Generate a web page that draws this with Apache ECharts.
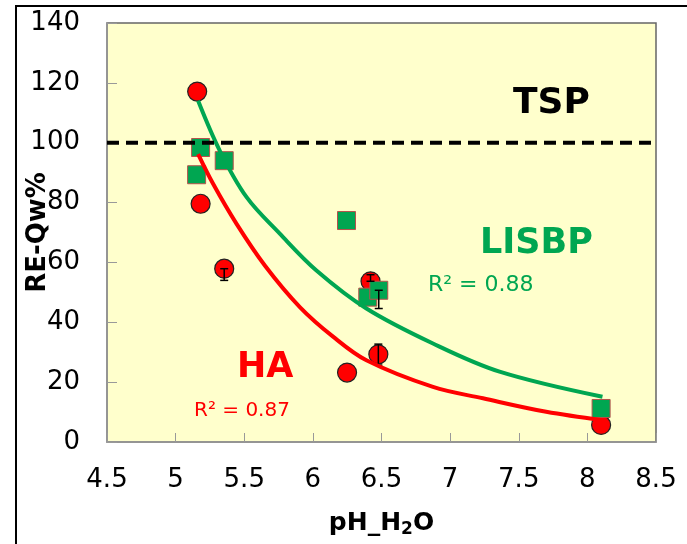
<!DOCTYPE html>
<html><head><meta charset="utf-8">
<script src="https://cdn.jsdelivr.net/npm/echarts@6/dist/echarts.min.js"></script>
<style>html,body{margin:0;padding:0;background:#fff}#c{width:687px;height:544px}</style>
</head><body><div id="c"></div>
<script>
// ---- data ----
const xRange = [4.5, 8.5];
const yRange = [0, 140];
const haX = [5.157, 5.182, 5.354, 6.249, 6.42, 6.477, 8.10];
const haY = [117.1, 79.6, 57.9, 23.2, 53.7, 29.3, 5.7];
const lisbpX = [5.182, 5.153, 5.354, 6.245, 6.40, 6.48, 8.10];
const lisbpY = [98.4, 89.3, 94.0, 74.0, 48.4, 50.7, 11.2];
const haFitX = [5.164, 5.274, 5.444, 5.65, 5.905, 6.147, 6.39, 6.875, 7.239, 7.70, 8.11];
const haFitY = [96.2, 86.2, 72.9, 59.0, 45.1, 35.2, 27.3, 18.4, 14.6, 10.1, 7.3];
const lisbpFitX = [5.164, 5.322, 5.517, 5.759, 6.026, 6.39, 6.875, 7.36, 8.11];
const lisbpFitY = [114, 97.3, 81.8, 69.6, 57.3, 44.6, 32.9, 23.5, 15.1];
const errX = [5.354, 6.42, 6.477, 6.48];
const errLo = [54.0, 53.7, 25.7, 44.6];
const errHi = [57.9, 55.9, 32.7, 50.7];
const tspY = 100;
const labels = {tsp: 'TSP', lisbp: 'LISBP', ha: 'HA', r2Lisbp: 'R² = 0.88', r2Ha: 'R² = 0.87'};

const RED = '#ff0000', GREEN = '#00a651', FONT = 'DejaVu Sans';
const zip = (a, b) => a.map((v, i) => [v, b[i]]);

const chart = echarts.init(document.getElementById('c'), null, {renderer: 'canvas'});
chart.setOption({
  animation: false,
  backgroundColor: '#ffffff',
  grid: {left: 107, top: 23, right: 31, bottom: 102, show: true, containLabel: false, outerBoundsMode: 'none',
         backgroundColor: '#ffffcc', borderColor: '#666', borderWidth: 1.5},
  xAxis: {
    type: 'value', min: xRange[0], max: xRange[1], interval: 0.5,
    name: '{a|pH_H}{s|2}{a|O}', nameLocation: 'middle', nameGap: 66, nameMoveOverlap: false,
    nameTextStyle: {rich: {
      a: {fontFamily: FONT, fontSize: 25, fontWeight: 'bold', color: '#000', lineHeight: 30},
      s: {fontFamily: FONT, fontSize: 17, fontWeight: 'bold', color: '#000', verticalAlign: 'bottom', lineHeight: 30, padding: [12, 0, 0, 0]}
    }},
    axisLine: {onZero: false, lineStyle: {color: '#999', width: 1.5}},
    axisTick: {inside: true, length: 9, lineStyle: {color: '#999'}},
    axisLabel: {margin: 25, fontFamily: FONT, fontSize: 26, color: '#000'},
    splitLine: {show: false}
  },
  yAxis: {
    type: 'value', min: yRange[0], max: yRange[1], interval: 20,
    name: 'RE-Qw%', nameLocation: 'middle', nameGap: 56, nameRotate: 90, nameMoveOverlap: false,
    nameTextStyle: {fontFamily: FONT, fontSize: 26, fontWeight: 'bold', color: '#000'},
    axisLine: {show: true, lineStyle: {color: '#999', width: 1.5}},
    axisTick: {show: true, inside: true, length: 10, lineStyle: {color: '#999'}},
    axisLabel: {margin: 27, fontFamily: FONT, fontSize: 26, color: '#000'},
    splitLine: {show: false}
  },
  graphic: [
    {type: 'rect', shape: {x: 16, y: 6, width: 800, height: 700}, style: {fill: 'none', stroke: '#000', lineWidth: 2}, z: 100, silent: true},
    {type: 'text', left: 513, top: 86, style: {text: labels.tsp, fontFamily: FONT, fontSize: 36, fontWeight: 'bold', fill: '#000'}, z: 100},
    {type: 'text', left: 480, top: 226, style: {text: labels.lisbp, fontFamily: FONT, fontSize: 35, fontWeight: 'bold', fill: GREEN}, z: 100},
    {type: 'text', left: 428, top: 274, style: {text: labels.r2Lisbp, fontFamily: FONT, fontSize: 22, fill: GREEN}, z: 100},
    {type: 'text', left: 237, top: 350, style: {text: labels.ha, fontFamily: FONT, fontSize: 35, fontWeight: 'bold', fill: RED}, z: 100},
    {type: 'text', left: 194, top: 401, style: {text: labels.r2Ha, fontFamily: FONT, fontSize: 20, fill: RED}, z: 100}
  ],
  series: [
    {name: 'HA', type: 'scatter', data: zip(haX, haY), symbol: 'circle', symbolSize: 19,
     itemStyle: {color: RED, borderColor: '#222', borderWidth: 1.2, opacity: 1}, z: 3},
    {name: 'LISBP', type: 'scatter', data: zip(lisbpX, lisbpY), symbol: 'rect', symbolSize: 18,
     itemStyle: {color: GREEN, borderColor: '#b5524c', borderWidth: 1, opacity: 1}, z: 4},
    {name: 'err', type: 'custom', z: 5,
     data: errX.map((x, i) => [x, errLo[i], errHi[i]]),
     renderItem: function (params, api) {
       const lo = api.coord([api.value(0), api.value(1)]);
       const hi = api.coord([api.value(0), api.value(2)]);
       const w = 4;
       const st = {stroke: '#000', lineWidth: 1.5};
       return {type: 'group', children: [
         {type: 'line', shape: {x1: lo[0], y1: lo[1], x2: hi[0], y2: hi[1]}, style: st},
         {type: 'line', shape: {x1: lo[0] - w, y1: lo[1], x2: lo[0] + w, y2: lo[1]}, style: st},
         {type: 'line', shape: {x1: hi[0] - w, y1: hi[1], x2: hi[0] + w, y2: hi[1]}, style: st}
       ]};
     }},
    {name: 'HA fit', type: 'line', data: zip(haFitX, haFitY), smooth: 0.35, showSymbol: false, symbol: 'none',
     lineStyle: {color: RED, width: 4}, z: 6},
    {name: 'LISBP fit', type: 'line', data: zip(lisbpFitX, lisbpFitY), smooth: 0.35, showSymbol: false, symbol: 'none',
     lineStyle: {color: GREEN, width: 4}, z: 6},
    {name: 'TSP', type: 'line', data: [[xRange[0], tspY], [xRange[1], tspY]], symbol: 'none',
     lineStyle: {color: '#000', width: 4, type: [12, 7]}, z: 7}
  ]
});
</script></body></html>
